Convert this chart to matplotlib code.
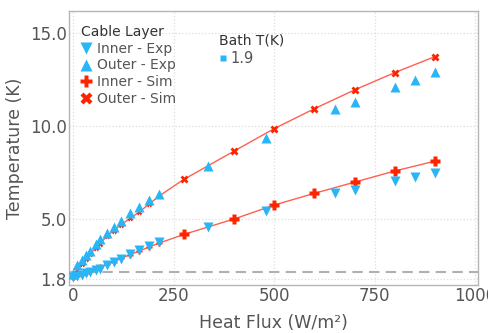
import matplotlib
matplotlib.use("Agg")
import matplotlib.pyplot as plt
from matplotlib.lines import Line2D

# ---- data ----
exp_flux = [0, 10, 21, 31, 42, 55, 66, 84, 100, 118, 141, 164, 187, 213,
            335, 480, 650, 700, 800, 850, 900]
inner_exp = [1.92, 1.97, 2.03, 2.10, 2.17, 2.26, 2.35, 2.54, 2.70, 2.87, 3.13,
             3.35, 3.58, 3.80, 4.57, 5.45, 6.40, 6.57, 7.06, 7.29, 7.50]
outer_exp = [2.05, 2.54, 2.81, 3.06, 3.31, 3.67, 3.92, 4.25, 4.60, 4.92, 5.32,
             5.68, 6.04, 6.36, 7.88, 9.39, 10.94, 11.29, 12.10, 12.49, 12.90]

sim_flux_low = [0, 10, 21, 31, 42, 55, 66, 84, 100, 118, 141, 164, 187, 213]
inner_sim_low = [1.90, 1.98, 2.06, 2.14, 2.22, 2.32, 2.42, 2.58, 2.73, 2.90,
                 3.10, 3.30, 3.50, 3.72]
outer_sim_low = [1.90, 2.30, 2.60, 2.85, 3.15, 3.45, 3.70, 4.10, 4.40, 4.70,
                 5.05, 5.40, 5.80, 6.25]
sim_flux_high = [275, 400, 500, 600, 700, 800, 900]
inner_sim_high = [4.19, 5.02, 5.77, 6.40, 7.00, 7.60, 8.13]
outer_sim_high = [7.15, 8.67, 9.88, 10.95, 11.96, 12.89, 13.75]

lambda_T = 2.17
bath_T = "1.9"
xticks = [0, 250, 500, 750, 1000]
yticks = [1.8, 5.0, 10.0, 15.0]

# ---- style ----
blue = "#29b6f6"
red = "#ff2400"
line_red = "#ff6050"
txt = "#555555"

fig = plt.figure(figsize=(4.88, 3.33), dpi=100)
ax = fig.add_axes([0.1414, 0.1441, 0.8381, 0.8229])

# simulation lines
ax.plot(sim_flux_low + sim_flux_high, inner_sim_low + inner_sim_high,
        color=line_red, lw=1.0, zorder=2)
ax.plot(sim_flux_low + sim_flux_high, outer_sim_low + outer_sim_high,
        color=line_red, lw=1.0, zorder=2)
ax.plot(sim_flux_low, inner_sim_low, ls="none", marker="P", ms=4,
        color=red, mec="none", zorder=3)
ax.plot(sim_flux_low, outer_sim_low, ls="none", marker="X", ms=4,
        color=red, mec="none", zorder=3)
ax.plot(sim_flux_high, inner_sim_high, ls="none", marker="P", ms=7,
        color=red, mec="none", zorder=3)
ax.plot(sim_flux_high, outer_sim_high, ls="none", marker="X", ms=6,
        color=red, mec="none", zorder=3)

# experiments
ax.plot(exp_flux, inner_exp, ls="none", marker="v", ms=7.5, color=blue,
        mec="none", zorder=4)
ax.plot(exp_flux, outer_exp, ls="none", marker="^", ms=7.5, color=blue,
        mec="none", zorder=4)

ax.axhline(lambda_T, color="#b0b0b0", ls=(0, (5, 3)), lw=1.5, zorder=1)

ax.set_xlim(-11, 1007)
ax.set_ylim(1.47, 16.2)
ax.set_xticks(xticks)
ax.set_xticklabels([str(t) for t in xticks])
ax.set_yticks(yticks)
ax.set_yticklabels([f"{t:.1f}" for t in yticks])
ax.tick_params(length=0, labelsize=12, labelcolor=txt, pad=1.5)
ax.grid(True, color="#dddddd", ls=":", lw=0.9)
ax.set_axisbelow(True)
for s in ax.spines.values():
    s.set_color("#b5b5b5")
    s.set_linewidth(1.0)

ax.set_xlabel("Heat Flux (W/m²)", fontsize=12.5, color=txt, labelpad=6.5)
ax.set_ylabel("Temperature (K)", fontsize=12.5, color=txt, labelpad=4.5)

handles = [
    Line2D([], [], ls="none", marker="v", ms=8, color=blue, mec="none"),
    Line2D([], [], ls="none", marker="^", ms=8, color=blue, mec="none"),
    Line2D([], [], ls="none", marker="P", ms=9, color=red, mec="none"),
    Line2D([], [], ls="none", marker="X", ms=8, color=red, mec="none"),
]
labels = ["Inner - Exp", "Outer - Exp", "Inner - Sim", "Outer - Sim"]
leg1 = ax.legend(handles, labels, title="Cable Layer", loc="upper left",
                 bbox_to_anchor=(0.005, 0.985), frameon=False, fontsize=10,
                 title_fontsize=10, handlelength=0.8, handletextpad=0.35,
                 labelspacing=0.2, borderaxespad=0.3, labelcolor=txt)
leg1._legend_box.align = "left"
leg1.get_title().set_color("#333333")
ax.add_artist(leg1)

h2 = [Line2D([], [], ls="none", marker="s", ms=5, color=blue, mec="none")]
leg2 = ax.legend(h2, [bath_T], title="Bath T(K)", loc="upper left",
                 bbox_to_anchor=(0.335, 0.965), frameon=False, fontsize=10.5,
                 title_fontsize=10, handlelength=0.5, handletextpad=0.3,
                 labelspacing=0.2, labelcolor=txt)
leg2._legend_box.align = "left"
leg2.get_title().set_color("#333333")

fig.savefig("out.png", dpi=100)
